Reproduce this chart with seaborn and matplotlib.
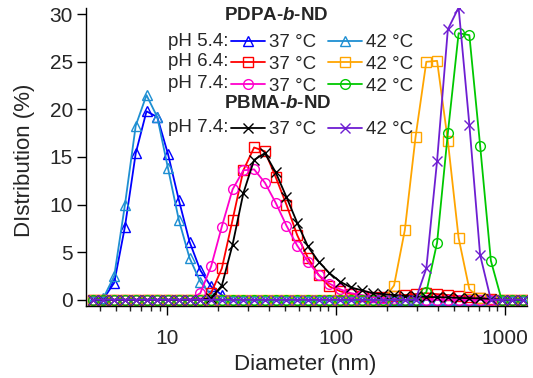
import numpy as np
import pandas as pd
import matplotlib
matplotlib.use("Agg")
import matplotlib.pyplot as plt
import seaborn as sns
from matplotlib.lines import Line2D

# DLS size bins (nm)
diameter = [3.615, 4.187, 4.849, 5.615, 6.503, 7.531, 8.721, 10.1, 11.7, 13.54,
            15.69, 18.17, 21.04, 24.36, 28.21, 32.67, 37.84, 43.82, 50.75, 58.77,
            68.06, 78.82, 91.28, 105.7, 122.4, 141.8, 164.2, 190.1, 220.2, 255.0,
            295.3, 342.0, 396.1, 458.7, 531.2, 615.1, 712.4, 825.0, 955.4, 1106, 1281]

# PDPA-b-ND, pH 5.4
ph54_37 = [0, 0.1, 1.8, 7.7, 15.4, 19.8, 19.2, 15.3, 10.5, 6.1,
           3.1, 1.4, 0.5, 0, 0, 0, 0, 0, 0, 0,
           0, 0, 0, 0, 0, 0, 0, 0, 0, 0,
           0, 0, 0, 0, 0, 0, 0, 0, 0, 0, 0]
ph54_42 = [0, 0.2, 2.5, 10.0, 18.3, 21.5, 19.2, 13.8, 8.4, 4.4,
           1.9, 0.5, 0, 0, 0, 0, 0, 0, 0, 0,
           0, 0, 0, 0, 0, 0, 0, 0, 0, 0,
           0, 0, 0, 0, 0, 0, 0, 0, 0, 0, 0]
# pH 6.4
ph64_37 = [0, 0, 0, 0, 0, 0, 0, 0, 0, 0,
           0, 0.7, 3.3, 8.4, 13.6, 16.0, 15.6, 12.9, 10.0, 6.8,
           4.4, 2.6, 1.4, 0.9, 0.6, 0.4, 0.3, 0.3, 0.4, 0.5,
           0.6, 0.7, 0.6, 0.5, 0.4, 0.3, 0.2, 0.1, 0, 0, 0]
ph64_42 = [0, 0, 0, 0, 0, 0, 0, 0, 0, 0,
           0, 0, 0, 0, 0, 0, 0, 0, 0, 0,
           0, 0, 0, 0, 0, 0, 0, 0, 1.5, 7.3,
           17.1, 25.0, 25.1, 16.7, 6.5, 1.1, 0.2, 0, 0, 0, 0]
# pH 7.4
ph74_37 = [0, 0, 0, 0, 0, 0, 0, 0, 0, 0,
           0.7, 3.5, 7.7, 11.6, 13.6, 13.7, 12.3, 10.2, 7.8, 5.7,
           4.0, 2.6, 1.7, 1.1, 0.7, 0.5, 0.3, 0.2, 0.1, 0,
           0, 0, 0, 0, 0, 0, 0, 0, 0, 0, 0]
ph74_42 = [0, 0, 0, 0, 0, 0, 0, 0, 0, 0,
           0, 0, 0, 0, 0, 0, 0, 0, 0, 0,
           0, 0, 0, 0, 0, 0, 0, 0, 0, 0,
           0, 0.8, 6.0, 17.5, 28.0, 27.8, 16.2, 4.1, 0, 0, 0]
# PBMA-b-ND, pH 7.4
pbma_37 = [0, 0, 0, 0, 0, 0, 0, 0, 0, 0,
           0, 0.2, 1.5, 5.8, 11.2, 14.7, 15.4, 13.4, 10.8, 8.1,
           5.6, 4.0, 2.8, 1.9, 1.3, 1.0, 0.7, 0.6, 0.5, 0.42,
           0.35, 0.3, 0.28, 0.25, 0.2, 0.17, 0.15, 0.1, 0, 0, 0]
pbma_42 = [0, 0, 0, 0, 0, 0, 0, 0, 0, 0,
           0, 0, 0, 0, 0, 0, 0, 0, 0, 0,
           0, 0, 0, 0, 0, 0, 0, 0, 0, 0,
           0, 3.3, 14.6, 28.4, 30.7, 18.4, 4.7, 0, 0, 0, 0]

series = [
    (ph54_37, "#0000FF", "^"), (ph54_42, "#1E8FD2", "^"),
    (ph64_37, "#FF0000", "s"), (ph64_42, "#FFA500", "s"),
    (ph74_37, "#FF00CC", "o"), (ph74_42, "#00C800", "o"),
    (pbma_37, "#000000", "x"), (pbma_42, "#6E1ED2", "x"),
]

sns.set_theme(style="white")
plt.rcParams["font.family"] = ["Liberation Sans", "DejaVu Sans"]
plt.rcParams["mathtext.fontset"] = "custom"
plt.rcParams["mathtext.bf"] = "Liberation Sans:bold"
plt.rcParams["mathtext.it"] = "Liberation Sans:italic"
plt.rcParams["mathtext.bfit"] = "Liberation Sans:italic:bold"

fig = plt.figure(figsize=(5.33, 3.78), dpi=100)
ax = fig.add_axes([86 / 533, 1 - 306 / 378, (527 - 86) / 533, (306 - 8) / 378])

lines = []
for vals, col, mk in series:
    sns.lineplot(x=diameter, y=vals, ax=ax, color=col, marker=mk, markersize=7,
                 markerfacecolor="none", markeredgecolor=col, markeredgewidth=1.0,
                 linewidth=1.3, sort=False)
    lines.append(ax.lines[-1])

ax.set_xscale("log")
ax.set_xlim(3.3, 1350)
ax.set_ylim(-0.65, 30.65)
ax.set_yticks([0, 5, 10, 15, 20, 25, 30])
ax.set_xticks([10, 100, 1000])
ax.set_xticklabels(["10", "100", "1000"])
ax.tick_params(axis="both", which="major", direction="out", length=6.5, width=1,
               labelsize=15, color="black", left=True, bottom=True)
ax.tick_params(axis="x", which="major", pad=10)
ax.tick_params(axis="y", which="major", pad=3)
ax.tick_params(axis="x", which="minor", direction="out", length=3.5, width=1,
               bottom=True)
ax.tick_params(axis="y", which="minor", left=False)
for s in ["top", "right"]:
    ax.spines[s].set_visible(False)
for s in ["left", "bottom"]:
    ax.spines[s].set_color("black")
    ax.spines[s].set_linewidth(1.0)
ax.grid(False)

ax.set_xlabel("Diameter (nm)", fontsize=16)
ax.set_ylabel("DIstribution (%)", fontsize=16)
ax.xaxis.set_label_coords(305 / 533, 1 - 354 / 378, transform=fig.transFigure)
ax.yaxis.set_label_coords(35 / 533, 1 - 160 / 378, transform=fig.transFigure)

# legend: two columns of handles, with a blank row for the PBMA title
blank = Line2D([], [], color="none")
handles = [lines[0], lines[2], lines[4], blank, lines[6],
           lines[1], lines[3], lines[5], blank, lines[7]]
labels = ["37 °C", "37 °C", "37 °C", "", "37 °C",
          "42 °C", "42 °C", "42 °C", "", "42 °C"]
leg = ax.legend(handles, labels, ncol=2, frameon=False, fontsize=13.5,
                loc="upper left", bbox_to_anchor=(231 / 533, 1 - 34 / 378),
                bbox_transform=fig.transFigure, borderpad=0, borderaxespad=0,
                handlelength=1.8, handletextpad=0.25, columnspacing=0.6,
                labelspacing=0.25)

for txt, ypix in [("pH 5.4:", 41), ("pH 6.4:", 62), ("pH 7.4:", 83), ("pH 7.4:", 127)]:
    fig.text(229 / 533, 1 - ypix / 378, txt, ha="right", va="center", fontsize=13.5)
fig.text(276 / 533, 1 - 15 / 378, r"PDPA-$\mathbfit{b}$-ND", ha="center", va="center",
         fontsize=13.5, fontweight="bold")
fig.text(278 / 533, 1 - 104 / 378, r"PBMA-$\mathbfit{b}$-ND", ha="center", va="center",
         fontsize=13.5, fontweight="bold")

fig.savefig("out.png", dpi=100)
